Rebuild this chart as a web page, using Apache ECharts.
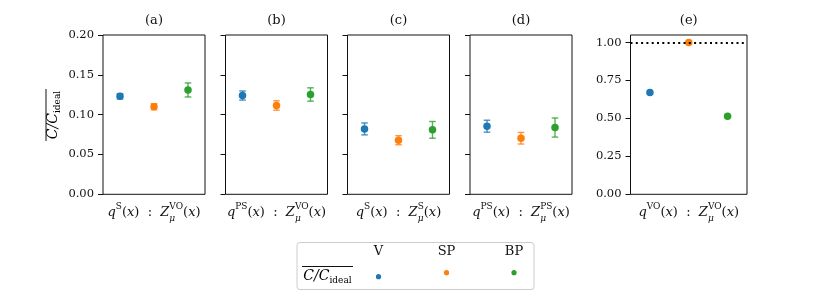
<!DOCTYPE html>
<html><head><meta charset="utf-8">
<script src="https://cdn.jsdelivr.net/npm/echarts@6/dist/echarts.min.js"></script>
<style>html,body{margin:0;padding:0;background:#fff}#c{width:831px;height:296px}</style>
</head><body><div id="c"></div>
<script>
// ---- data ----
const categories = ['V', 'SP', 'BP'];
const panelTitles = ['(a)', '(b)', '(c)', '(d)', '(e)'];
const meanA = [0.123, 0.110, 0.131];
const errA  = [0.0034, 0.0038, 0.0088];
const meanB = [0.124, 0.1115, 0.1253];
const errB  = [0.0057, 0.0059, 0.0084];
const meanC = [0.0821, 0.0679, 0.0809];
const errC  = [0.0075, 0.0057, 0.0105];
const meanD = [0.0855, 0.0704, 0.0838];
const errD  = [0.0075, 0.0073, 0.012];
const meanE = [0.671, 1.0, 0.515];
const idealValue = 1.0;
const ticksAD = [0, 0.05, 0.10, 0.15, 0.20];
const ticksE  = [0, 0.25, 0.50, 0.75, 1.00];
const xLabelParts = [
  ['S', 'VO', 'VO'],
  ['PS', 'VO', 'VO'],
  ['S', 'S', 'S'],
  ['PS', 'PS', 'PS'],
  ['VO', 'VO', 'VO']
];

// ---- style / layout ----
const FONT = 'DejaVu Serif';
const colors = ['#1f77b4', '#ff7f0e', '#2ca02c'];
const gridLeft  = [103, 225.5, 347.5, 470, 630.5];
const gridWidth = [102, 102, 102, 102, 116.5];
const gridTop = 35, gridHeight = 159.3;

const means = [meanA, meanB, meanC, meanD, meanE];
const errs  = [errA, errB, errC, errD, null];

const richX = {
  i:   {fontFamily: FONT, fontStyle: 'italic', fontSize: 13, lineHeight: 21, align: 'left', color: '#111'},
  r:   {fontFamily: FONT, fontSize: 13, lineHeight: 21, align: 'left', color: '#111'},
  sup: {fontFamily: FONT, fontSize: 9, lineHeight: 11, verticalAlign: 'top', align: 'left', color: '#111'},
  sub: {fontFamily: FONT, fontStyle: 'italic', fontSize: 9, lineHeight: 14, verticalAlign: 'bottom', align: 'left', width: 0.001, color: '#111'}
};
function xLabel(p) {
  return '{i|q}{sup|' + p[0] + '}{r|(}{i|x}{r|)  :  }{i|Z}{sub|μ}{sup|' + p[1] + '}{r|(}{i|x}{r|)}';
}

function errRender(params, api) {
  const x = api.value(0), y = api.value(1), e = api.value(2);
  const hi = api.coord([x, y + e]), lo = api.coord([x, y - e]);
  const w = 3.3;
  const style = {stroke: colors[params.dataIndex], lineWidth: 1.4, opacity: 0.8};
  return {type: 'group', children: [
    {type: 'line', shape: {x1: hi[0], y1: hi[1], x2: lo[0], y2: lo[1]}, style: style},
    {type: 'line', shape: {x1: hi[0] - w, y1: hi[1], x2: hi[0] + w, y2: hi[1]}, style: style},
    {type: 'line', shape: {x1: lo[0] - w, y1: lo[1], x2: lo[0] + w, y2: lo[1]}, style: style}
  ]};
}

const grids = [], xAxes = [], yAxes = [], series = [], graphics = [];
for (let k = 0; k < 5; k++) {
  grids.push({left: gridLeft[k], top: gridTop, width: gridWidth[k], height: gridHeight,
    show: true, borderColor: '#111', borderWidth: 1, backgroundColor: 'transparent'});
  xAxes.push({type: 'category', gridIndex: k, data: categories, boundaryGap: true,
    axisLine: {show: false}, axisTick: {show: false}, axisLabel: {show: false}, splitLine: {show: false},
    name: xLabel(xLabelParts[k]), nameLocation: 'middle', nameGap: 8,
    nameTextStyle: {rich: richX}});
  const isE = k === 4;
  yAxes.push({type: 'value', gridIndex: k, min: 0, max: isE ? 1.05 : 0.2, interval: isE ? 0.25 : 0.05,
    axisLine: {show: false}, splitLine: {show: false},
    axisTick: {show: true, length: 5, lineStyle: {color: '#111', width: 1}, customValues: isE ? ticksE : ticksAD},
    axisLabel: {show: k === 0 || isE, margin: 9, fontFamily: FONT, fontSize: 11.5, color: '#111',
      customValues: isE ? ticksE : ticksAD,
      formatter: v => v.toFixed(2)}});
  if (errs[k]) {
    series.push({type: 'custom', xAxisIndex: k, yAxisIndex: k, z: 2, silent: true,
      renderItem: errRender,
      data: means[k].map((m, j) => [j, m, errs[k][j]])});
  }
  series.push({type: 'scatter', xAxisIndex: k, yAxisIndex: k, z: 4, symbolSize: 7.5, silent: true,
    data: means[k].map((m, j) => ({value: [j, m], itemStyle: {color: colors[j], opacity: 1}}))});
  graphics.push({type: 'text', x: gridLeft[k] + gridWidth[k] / 2, y: 21,
    style: {text: panelTitles[k], align: 'center', verticalAlign: 'middle', font: '13px "' + FONT + '"', fill: '#111'}});
}
// ideal reference line in (e)
series.push({type: 'line', xAxisIndex: 4, yAxisIndex: 4, data: [], z: 1, silent: true,
  markLine: {silent: true, symbol: 'none', label: {show: false}, animation: false,
    lineStyle: {type: [2, 3.3], color: '#000', width: 2, opacity: 1},
    data: [{yAxis: idealValue}]}});

const richC = {
  c: {fontFamily: FONT, fontStyle: 'italic', fontSize: 14, color: '#111', lineHeight: 18},
  s: {fontFamily: FONT, fontSize: 9, color: '#111', verticalAlign: 'bottom', lineHeight: 13}
};
// y-axis name (rotated, with overline)
graphics.push({type: 'group', x: 53, y: 115, rotation: Math.PI / 2, children: [
  {type: 'text', x: 0, y: 0, style: {text: '{c|C/C}{s|ideal}', rich: richC, align: 'center', verticalAlign: 'middle'}},
  {type: 'line', shape: {x1: -26, y1: -7, x2: 26, y2: -7}, style: {stroke: '#111', lineWidth: 1}}
]});
// legend box
const legX = [378.5, 446.5, 514];
const legMarkerY = [276.7, 272.7, 272.7];
graphics.push({type: 'rect', shape: {x: 297, y: 242.5, width: 237, height: 47, r: 3},
  style: {fill: '#fff', stroke: '#cccccc', lineWidth: 1}});
graphics.push({type: 'text', x: 327.5, y: 276, style: {text: '{c|C/C}{s|ideal}', rich: richC, align: 'center', verticalAlign: 'middle'}});
graphics.push({type: 'line', shape: {x1: 302, y1: 266.5, x2: 353, y2: 266.5}, style: {stroke: '#111', lineWidth: 1}});
categories.forEach((c, j) => {
  graphics.push({type: 'text', x: legX[j], y: 252, style: {text: c, align: 'center', verticalAlign: 'middle', font: '13px "' + FONT + '"', fill: '#111'}});
  graphics.push({type: 'circle', shape: {cx: legX[j], cy: legMarkerY[j], r: 2.6}, style: {fill: colors[j]}});
});

const chart = echarts.init(document.getElementById('c'), null, {renderer: 'canvas'});
chart.setOption({
  animation: false,
  backgroundColor: '#fff',
  grid: grids, xAxis: xAxes, yAxis: yAxes, series: series,
  graphic: graphics
});
</script></body></html>
